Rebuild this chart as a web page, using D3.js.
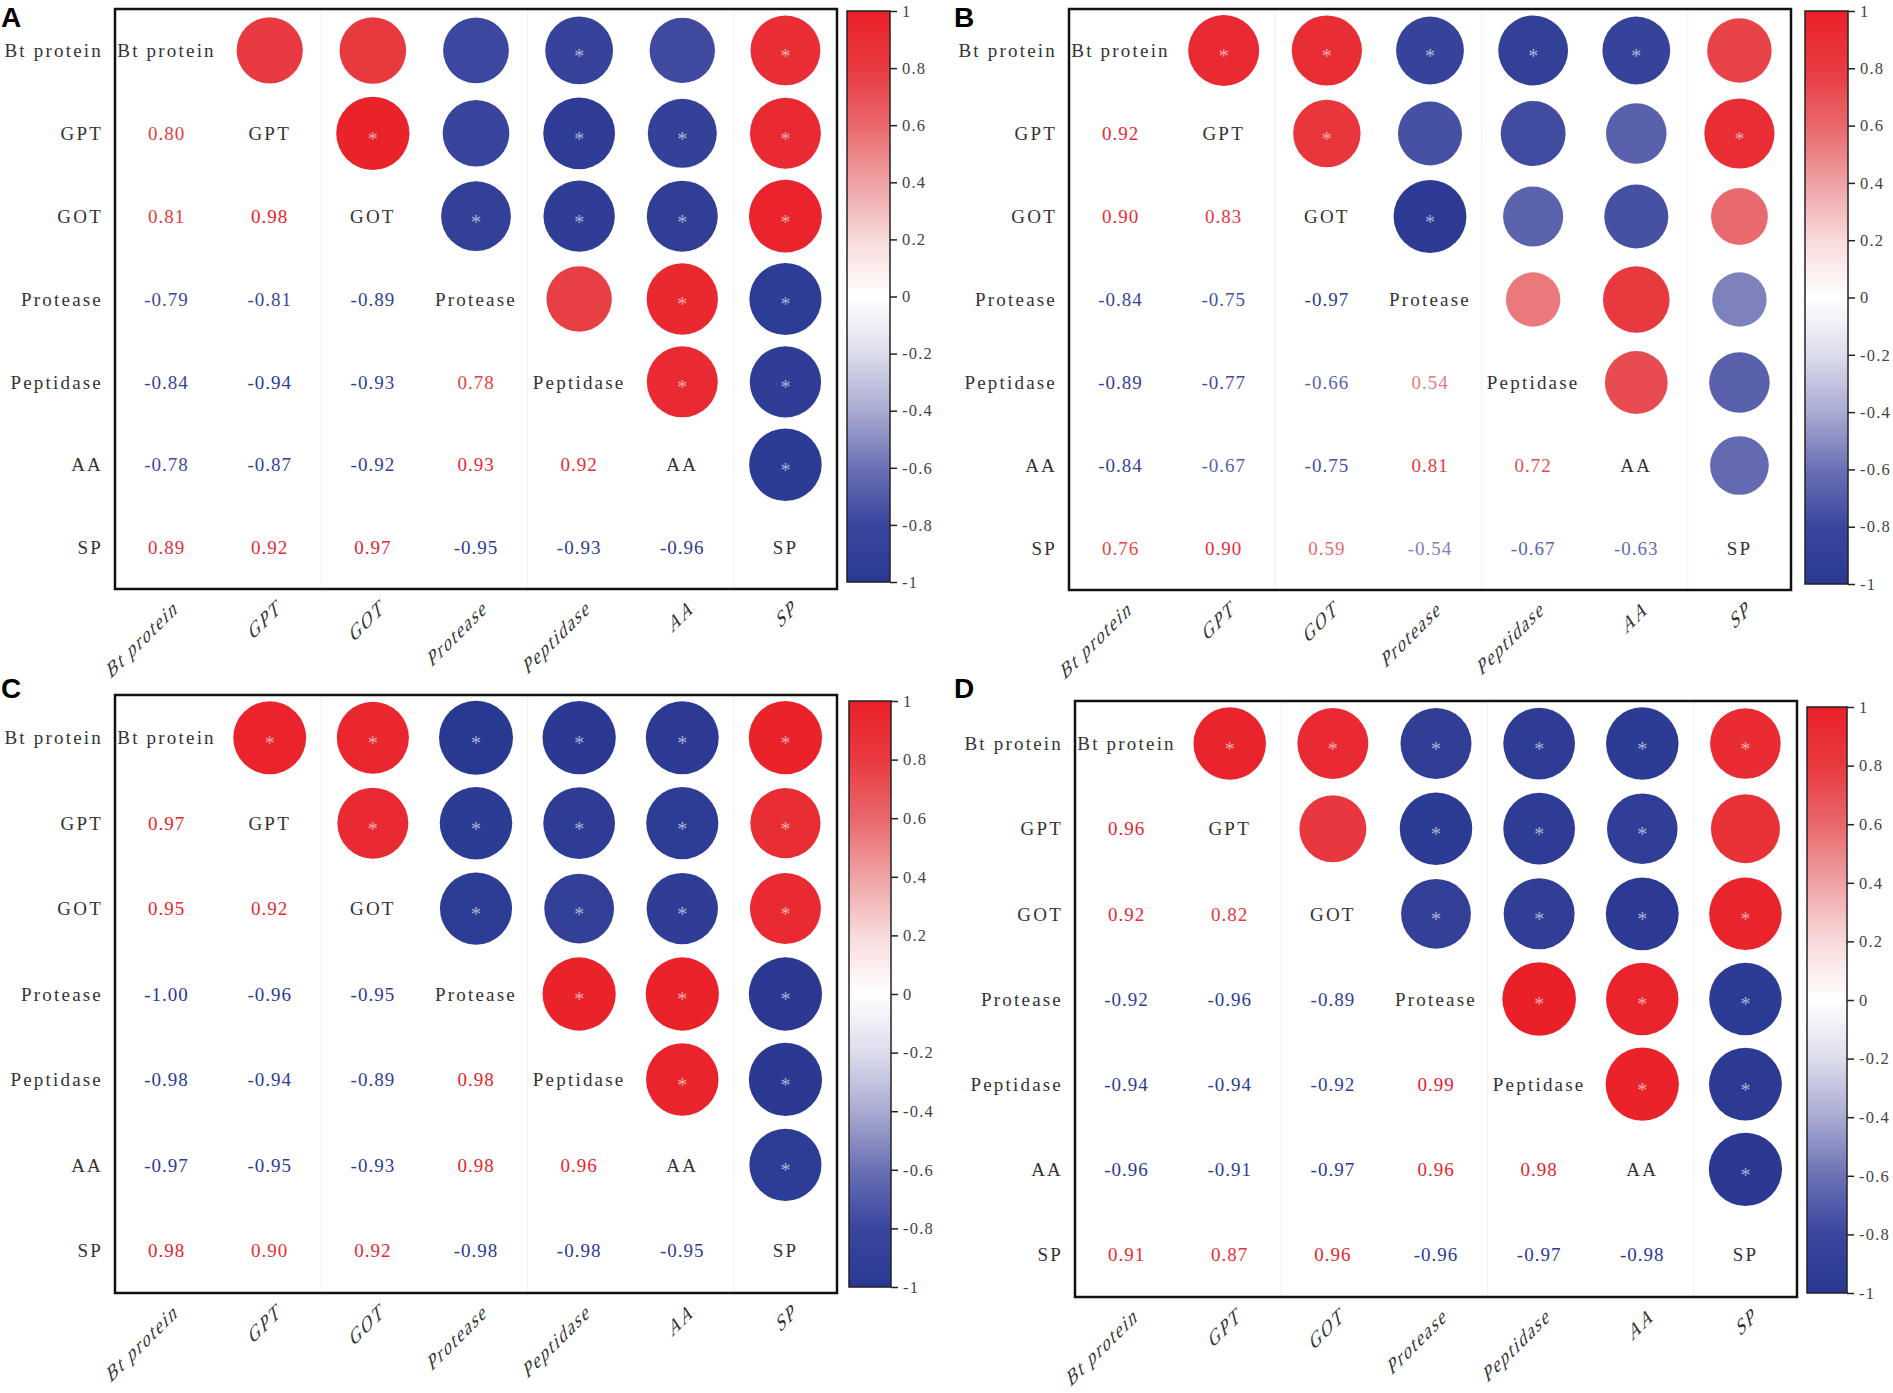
<!DOCTYPE html>
<html>
<head>
<meta charset="utf-8">
<script src="https://cdn.jsdelivr.net/npm/d3@7"></script>
<style>
  body { margin: 0; background: #fff; }
  svg { display: block; }
</style>
</head>
<body>
<script>
// variables, same order on both axes
var variables = ['Bt protein', 'GPT', 'GOT', 'Protease', 'Peptidase', 'AA', 'SP'];

// lower triangle correlation values, row i holds cols 0..i-1
var corrA = [
  [],
  [0.80],
  [0.81, 0.98],
  [-0.79, -0.81, -0.89],
  [-0.84, -0.94, -0.93, 0.78],
  [-0.78, -0.87, -0.92, 0.93, 0.92],
  [0.89, 0.92, 0.97, -0.95, -0.93, -0.96]
];
var corrB = [
  [],
  [0.92],
  [0.90, 0.83],
  [-0.84, -0.75, -0.97],
  [-0.89, -0.77, -0.66, 0.54],
  [-0.84, -0.67, -0.75, 0.81, 0.72],
  [0.76, 0.90, 0.59, -0.54, -0.67, -0.63]
];
var corrC = [
  [],
  [0.97],
  [0.95, 0.92],
  [-1.00, -0.96, -0.95],
  [-0.98, -0.94, -0.89, 0.98],
  [-0.97, -0.95, -0.93, 0.98, 0.96],
  [0.98, 0.90, 0.92, -0.98, -0.98, -0.95]
];
var corrD = [
  [],
  [0.96],
  [0.92, 0.82],
  [-0.92, -0.96, -0.89],
  [-0.94, -0.94, -0.92, 0.99],
  [-0.96, -0.91, -0.97, 0.96, 0.98],
  [0.91, 0.87, 0.96, -0.96, -0.97, -0.98]
];

// significance marks (*) of the upper triangle, row i holds cols i+1..6
var sigA = [
  [0, 0, 0, 1, 0, 1],
  [1, 0, 1, 1, 1],
  [1, 1, 1, 1],
  [0, 1, 1],
  [1, 1],
  [1],
  []
];
var sigB = [
  [1, 1, 1, 1, 1, 0],
  [1, 0, 0, 0, 1],
  [1, 0, 0, 0],
  [0, 0, 0],
  [0, 0],
  [0],
  []
];
var sigC = [
  [1, 1, 1, 1, 1, 1],
  [1, 1, 1, 1, 1],
  [1, 1, 1, 1],
  [1, 1, 1],
  [1, 1],
  [1],
  []
];
var sigD = [
  [1, 1, 1, 1, 1, 1],
  [0, 1, 1, 1, 0],
  [1, 1, 1, 1],
  [1, 1, 1],
  [1, 1],
  [1],
  []
];

var colorTicks = [1, 0.8, 0.6, 0.4, 0.2, 0, -0.2, -0.4, -0.6, -0.8, -1];
var panelNames = ['A', 'B', 'C', 'D'];

// colour map stops
var colorStops = [-1, -0.8, -0.6, -0.4, -0.2, 0, 0.2, 0.4, 0.6, 0.8, 1];
var colorValues = ['#293891', '#3a469e', '#6a70b4', '#a9abd1', '#dcdcec', '#ffffff',
  '#f8dadb', '#efa2a4', '#e9676b', '#e83a40', '#ea1f28'];

var W = 1893, H = 1393;
var serif = '"Liberation Serif", "DejaVu Serif", serif';

var svg = d3.select('body').append('svg')
  .attr('width', W)
  .attr('height', H);

var color = d3.scaleLinear()
  .domain(colorStops)
  .range(colorValues);

var rScale = d3.scaleSqrt()
  .domain([0, 1])
  .range([0, 37]);

var panels = [
  {name: 'A', corr: corrA, sig: sigA, lx: 1, ly: 27,
    frame: {x: 115, y: 9, w: 722, h: 580}, cb: {x: 847, y: 11, w: 43, h: 571}},
  {name: 'B', corr: corrB, sig: sigB, lx: 954, ly: 27,
    frame: {x: 1069, y: 9, w: 722, h: 581}, cb: {x: 1805, y: 11, w: 43, h: 573}},
  {name: 'C', corr: corrC, sig: sigC, lx: 1, ly: 698,
    frame: {x: 115, y: 695, w: 722, h: 598}, cb: {x: 849, y: 701, w: 42, h: 586}},
  {name: 'D', corr: corrD, sig: sigD, lx: 954, ly: 698,
    frame: {x: 1075, y: 701, w: 722, h: 596}, cb: {x: 1807, y: 707, w: 40, h: 586}}
];

function drawPanel(p, idx) {
  var n = variables.length;
  var x = d3.scaleBand().domain(variables).range([0, p.frame.w]);
  var y = d3.scaleBand().domain(variables).range([0, p.frame.h]);

  // panel letter
  svg.append('text')
    .attr('x', p.lx)
    .attr('y', p.ly)
    .attr('font-family', '"Liberation Sans", Arial, sans-serif')
    .attr('font-weight', 'bold')
    .attr('font-size', 28)
    .text(panelNames[idx]);

  var g = svg.append('g')
    .attr('transform', 'translate(' + p.frame.x + ',' + p.frame.y + ')');

  // faint grid
  var grid = [2, 4, 6];
  g.selectAll('.vgrid')
    .data(grid)
    .enter()
    .append('line')
    .attr('x1', function(d) { return x.step() * d; })
    .attr('x2', function(d) { return x.step() * d; })
    .attr('y1', 0)
    .attr('y2', p.frame.h)
    .attr('stroke', '#f0f0f0')
    .attr('stroke-width', 1);

  // build cells
  var cells = [];
  for (var i = 0; i < n; i++) {
    for (var j = 0; j < n; j++) {
      if (i === j) {
        cells.push({type: 'diag', row: variables[i], col: variables[j]});
      } else if (j < i) {
        cells.push({type: 'low', row: variables[i], col: variables[j], v: p.corr[i][j]});
      } else {
        cells.push({type: 'up', row: variables[i], col: variables[j],
          v: p.corr[j][i], s: p.sig[i][j - i - 1]});
      }
    }
  }

  var up = cells.filter(function(d) { return d.type === 'up'; });

  g.selectAll('circle')
    .data(up)
    .enter()
    .append('circle')
    .attr('cx', function(d) { return x(d.col) + x.bandwidth() / 2; })
    .attr('cy', function(d) { return y(d.row) + y.bandwidth() / 2; })
    .attr('r', function(d) { return rScale(Math.abs(d.v)); })
    .attr('fill', function(d) { return color(d.v); });

  g.selectAll('.star')
    .data(up.filter(function(d) { return d.s; }))
    .enter()
    .append('text')
    .attr('class', 'star')
    .attr('x', function(d) { return x(d.col) + x.bandwidth() / 2; })
    .attr('y', function(d) { return y(d.row) + y.bandwidth() / 2; })
    .attr('dy', '0.62em')
    .attr('text-anchor', 'middle')
    .attr('font-family', serif)
    .attr('font-size', 20)
    .attr('fill', '#ffffff')
    .attr('fill-opacity', 0.6)
    .text('*');

  g.selectAll('.val')
    .data(cells.filter(function(d) { return d.type === 'low'; }))
    .enter()
    .append('text')
    .attr('class', 'val')
    .attr('x', function(d) { return x(d.col) + x.bandwidth() / 2; })
    .attr('y', function(d) { return y(d.row) + y.bandwidth() / 2; })
    .attr('dy', '0.35em')
    .attr('text-anchor', 'middle')
    .attr('font-family', serif)
    .attr('font-size', 19)
    .attr('letter-spacing', 1)
    .attr('fill', function(d) { return color(d.v); })
    .text(function(d) { return d.v.toFixed(2); });

  g.selectAll('.diag')
    .data(cells.filter(function(d) { return d.type === 'diag'; }))
    .enter()
    .append('text')
    .attr('class', 'diag')
    .attr('x', function(d) { return x(d.col) + x.bandwidth() / 2; })
    .attr('y', function(d) { return y(d.row) + y.bandwidth() / 2; })
    .attr('dy', '0.35em')
    .attr('text-anchor', 'middle')
    .attr('font-family', serif)
    .attr('font-size', 19)
    .attr('letter-spacing', 2.2)
    .attr('fill', '#333')
    .text(function(d) { return d.row; });

  // frame
  g.append('rect')
    .attr('width', p.frame.w)
    .attr('height', p.frame.h)
    .attr('fill', 'none')
    .attr('stroke', '#111')
    .attr('stroke-width', 2.5);

  // row labels
  g.selectAll('.rowlab')
    .data(variables)
    .enter()
    .append('text')
    .attr('class', 'rowlab')
    .attr('x', -12)
    .attr('y', function(d) { return y(d) + y.bandwidth() / 2; })
    .attr('dy', '0.35em')
    .attr('text-anchor', 'end')
    .attr('font-family', serif)
    .attr('font-size', 19)
    .attr('letter-spacing', 2.2)
    .attr('fill', '#333')
    .text(function(d) { return d; });

  // column labels, slanted
  g.selectAll('.collab')
    .data(variables)
    .enter()
    .append('text')
    .attr('class', 'collab')
    .attr('transform', function(d) {
      return 'translate(' + (x(d) + x.bandwidth() / 2 + 12) + ',' + (p.frame.h + 22) + ') rotate(-45) skewX(-30)';
    })
    .attr('text-anchor', 'end')
    .attr('font-family', serif)
    .attr('font-size', 19)
    .attr('letter-spacing', 2)
    .attr('fill', '#333')
    .text(function(d) { return d; });

  // colour bar
  var gradId = 'grad' + p.name;
  var grad = svg.append('defs').append('linearGradient')
    .attr('id', gradId)
    .attr('x1', 0).attr('y1', 0)
    .attr('x2', 0).attr('y2', 1);
  grad.selectAll('stop')
    .data(d3.range(0, 41))
    .enter()
    .append('stop')
    .attr('offset', function(d) { return d / 40; })
    .attr('stop-color', function(d) { return color(1 - d / 20); });

  var cbScale = d3.scaleLinear().domain([1, -1]).range([0, p.cb.h]);
  var cb = svg.append('g')
    .attr('transform', 'translate(' + p.cb.x + ',' + p.cb.y + ')');

  cb.append('rect')
    .attr('width', p.cb.w)
    .attr('height', p.cb.h)
    .attr('fill', 'url(#' + gradId + ')')
    .attr('stroke', '#222')
    .attr('stroke-width', 1.5);

  var axis = d3.axisRight(cbScale)
    .tickValues(colorTicks)
    .tickSize(7)
    .tickPadding(5)
    .tickFormat(function(d) { return String(Math.round(d * 10) / 10); });

  var ax = cb.append('g')
    .attr('transform', 'translate(' + p.cb.w + ',0)')
    .call(axis);
  ax.select('.domain').remove();
  ax.selectAll('.tick line').attr('stroke', '#222').attr('stroke-width', 1.5);
  ax.selectAll('.tick text')
    .attr('font-family', serif)
    .attr('font-size', 16.5)
    .attr('letter-spacing', 1.2)
    .attr('fill', '#444');
}

panels.forEach(drawPanel);
</script>
</body>
</html>
